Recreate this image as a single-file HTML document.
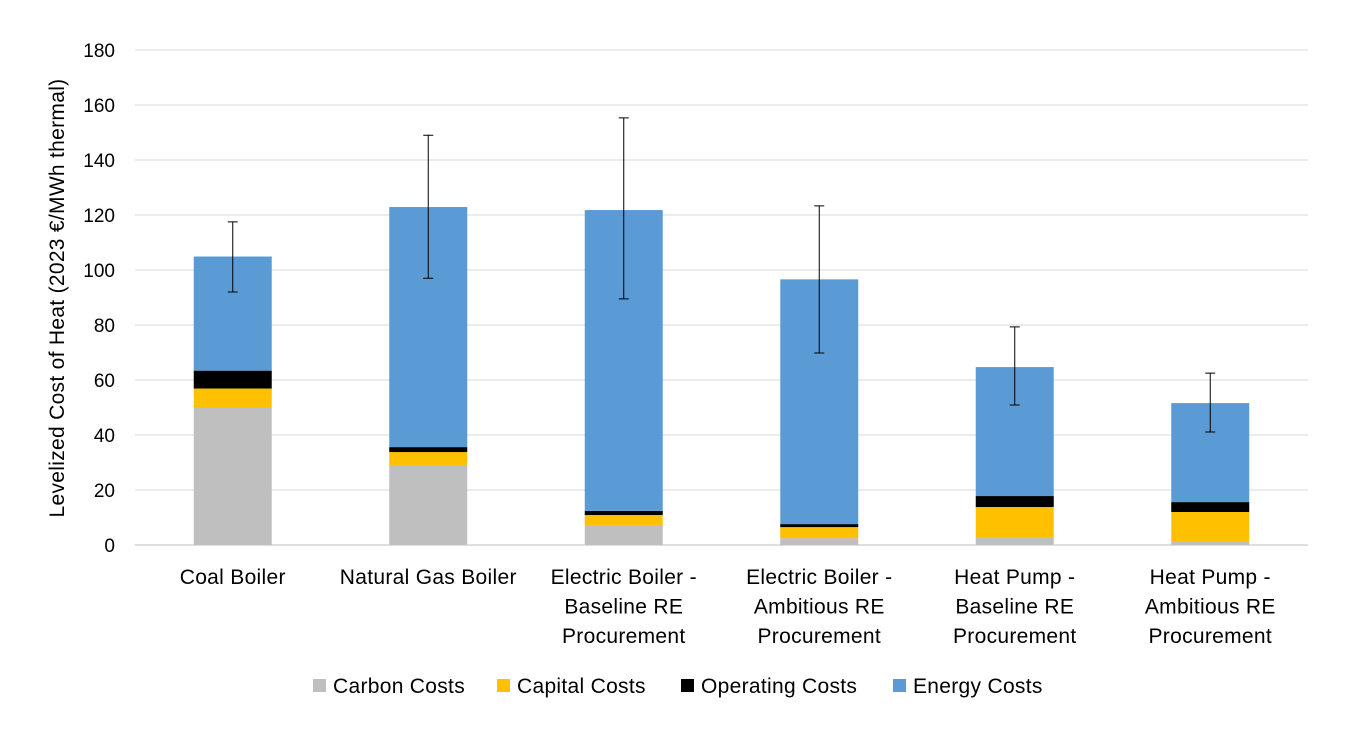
<!DOCTYPE html>
<html><head><meta charset="utf-8"><style>
body{margin:0;background:#fff;font-family:"Liberation Sans",Arial,sans-serif;}
svg text{font-family:"Liberation Sans",Arial,sans-serif;fill:#000;}
</style></head><body>
<svg id="chart" width="1356" height="742"></svg>
<script>
const categories=[["Coal Boiler"],["Natural Gas Boiler"],["Electric Boiler -","Baseline RE","Procurement"],["Electric Boiler -","Ambitious RE","Procurement"],["Heat Pump -","Baseline RE","Procurement"],["Heat Pump -","Ambitious RE","Procurement"]];
const carbonCosts=[50,29.1,7.3,2.5,2.9,1.1];
const capitalCosts=[6.9,4.7,3.6,4,10.9,10.9];
const operatingCosts=[6.5,1.8,1.5,1.1,4,3.6];
const energyCosts=[41.5,87.3,109.4,89,46.9,36];
const errorHigh=[117.5,149,155.3,123.3,79.3,62.5];
const errorLow=[92,97,89.5,69.8,50.9,41.1];
const yTicks=[0,20,40,60,80,100,120,140,160,180];
const seriesNames=["Carbon Costs","Capital Costs","Operating Costs","Energy Costs"];
const seriesColors=["#bfbfbf","#ffc000","#000000","#5b9bd5"];

const NS="http://www.w3.org/2000/svg";
const svg=document.getElementById('chart');
const X0=135,X1=1308,Y0=545,Y1=50,YMAX=180;
const y=v=>Y0-(v/YMAX)*(Y0-Y1);
const band=(X1-X0)/categories.length;
const xc=i=>X0+band*(i+0.5);
const BW=78;
function mk(t,a){const e=document.createElementNS(NS,t);for(const k in a)e.setAttribute(k,a[k]);svg.appendChild(e);return e;}

yTicks.forEach(t=>{
  const g=mk('line',{x1:X0,x2:X1,y1:y(t),y2:y(t),stroke:t===0?'#bfbfbf':'#d9d9d9','stroke-width':1});
  
  
  const l=mk('text',{x:115,y:y(t)+7,'text-anchor':'end','font-size':19});
  l.textContent=t;
  
  
});
const yt=mk('text',{x:0,y:0,'text-anchor':'middle','font-size':21,'letter-spacing':0.3,transform:'translate(64,298) rotate(-90)'});
yt.textContent='Levelized Cost of Heat (2023 €/MWh thermal)';



const series=[carbonCosts,capitalCosts,operatingCosts,energyCosts];
categories.forEach((c,i)=>{
  let base=0;
  series.forEach((s,k)=>{
    const r=mk('rect',{x:xc(i)-BW/2,y:y(base+s[i]),width:BW,height:y(base)-y(base+s[i]),fill:seriesColors[k]});
    
    
    base+=s[i];
  });
  const eb=mk('path',{d:`M${xc(i)},${y(errorHigh[i])}V${y(errorLow[i])}M${xc(i)-5},${y(errorHigh[i])}H${xc(i)+5}M${xc(i)-5},${y(errorLow[i])}H${xc(i)+5}`,stroke:'#000','stroke-width':1,fill:'none'});
  
  
  c.forEach((ln,j)=>{
    const t=mk('text',{x:xc(i),y:584+j*29.5,'text-anchor':'middle','font-size':21,'letter-spacing':0.3});
    t.textContent=ln;
    
    
  });
});

const legX=[313,497,681,893];
seriesNames.forEach((n,k)=>{
  const r=mk('rect',{x:legX[k],y:679,width:13,height:13,fill:seriesColors[k]});
  
  
  const t=mk('text',{x:legX[k]+20,y:693,'font-size':21,'letter-spacing':0.3});
  t.textContent=n;
  
  
});
</script>
</body></html>
